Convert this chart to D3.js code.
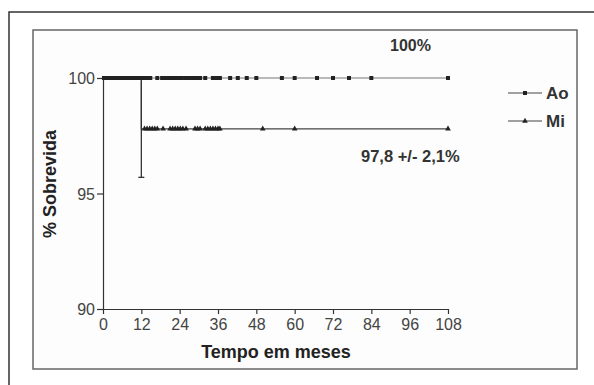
<!DOCTYPE html>
<html><head><meta charset="utf-8">
<script src="https://cdn.jsdelivr.net/npm/d3@7"></script>
<style>body{margin:0;background:#fff}svg{display:block}text{font-family:"Liberation Sans",Arial,sans-serif}</style>
</head><body>
<svg id="c" width="594" height="385"></svg>
<script>
// Data
const xTicks = [0,12,24,36,48,60,72,84,96,108];
const yTicks = [90,95,100];
const seriesNames = ["Ao","Mi"];
// Kaplan-Meier steps: [time, survival %]
const aoSteps = [[0,100],[108,100]];
const miSteps = [[0,100],[12,100],[12,97.8],[108,97.8]];
// censored observations (months)
const aoCensor = [0.3,0.8,1.2,1.7,2.2,2.6,3.1,3.6,4,4.5,5,5.5,6,6.4,6.9,7.4,7.8,8.3,8.8,9.2,9.7,10.2,10.6,11.1,11.6,12.3,12.8,13.3,13.8,14.3,14.8,17,18.5,19.2,20,20.8,21.5,22.3,23,23.8,24.6,25.7,26.5,27.3,28.1,29,29.8,30.4,32,34.4,35.2,36,36.6,39.8,42.2,45,48,56,60,67,72,77,84,108];
const miCensor = [13,13.8,14.6,15.4,16.2,17,18.8,21,21.8,22.6,23.4,24.2,25,26,28.8,29.6,30.4,32,32.8,33.6,34.4,35.2,36,36.6,50,60,108];
const miErr = {t:12, low:95.7, high:99.9};
const annoTop = "100%";
const annoMi = "97,8 +/- 2,1%";

const svg = d3.select("#c");
// frames
svg.append("path").attr("d","M9,385V12H594").attr("fill","none").attr("stroke","#333").attr("stroke-width",1.5);
svg.append("rect").attr("x",33).attr("y",30).attr("width",544).attr("height",339).attr("fill","#fdfdfd").attr("stroke","#666").attr("stroke-width",1.5);

const x = d3.scaleLinear().domain([0,108]).range([103,448]);
const y = d3.scaleLinear().domain([90,100]).range([309,78]);

const xAxis = svg.append("g").attr("transform","translate(0,309)")
  .call(d3.axisBottom(x).tickValues(xTicks).tickSize(5).tickSizeOuter(0).tickPadding(5));
const yAxis = svg.append("g").attr("transform","translate(103,0)")
  .call(d3.axisLeft(y).tickValues(yTicks).tickSize(6).tickSizeOuter(0).tickPadding(2));
[xAxis,yAxis].forEach(g=>{
  g.select(".domain").attr("stroke","#333").attr("stroke-width",1.2);
  g.selectAll(".tick line").attr("stroke","#333").attr("stroke-width",1.2);
  g.selectAll(".tick text").attr("fill","#444").style("font-size","16px");
});
yAxis.selectAll(".tick text").attr("dy","0.36em");

// titles
svg.append("text").attr("x",276).attr("y",358).attr("text-anchor","middle")
  .style("font-size","18px").style("font-weight","bold").attr("fill","#222").text("Tempo em meses");
svg.append("text").attr("transform","translate(56,184) rotate(-90)").attr("text-anchor","middle")
  .style("font-size","18px").style("font-weight","bold").attr("fill","#222").text("% Sobrevida");

const line = d3.line().x(d=>x(d[0])).y(d=>y(d[1]));
svg.append("path").attr("d",line(aoSteps)).attr("fill","none").attr("stroke","#777").attr("stroke-width",1.2);
svg.append("path").attr("d",line(miSteps)).attr("fill","none").attr("stroke","#444").attr("stroke-width",1.2);

// error bar
svg.append("line").attr("x1",x(miErr.t)).attr("x2",x(miErr.t)).attr("y1",y(miErr.high)).attr("y2",y(miErr.low)).attr("stroke","#333").attr("stroke-width",1.3);
svg.append("line").attr("x1",x(miErr.t)-3).attr("x2",x(miErr.t)+3).attr("y1",y(miErr.low)).attr("y2",y(miErr.low)).attr("stroke","#333").attr("stroke-width",1.3);

const sq = d3.symbol().type(d3.symbolSquare).size(16);
const tri = d3.symbol().type(d3.symbolTriangle).size(14);
svg.append("g").selectAll("path").data(aoCensor).join("path")
  .attr("d",sq).attr("transform",d=>`translate(${x(d)},${y(100)})`).attr("fill","#222");
svg.append("g").selectAll("path").data(miCensor).join("path")
  .attr("d",tri).attr("transform",d=>`translate(${x(d)},${y(97.8)})`).attr("fill","#222");

// legend
const lg = svg.append("g");
seriesNames.forEach((n,i)=>{
  const yy = 93 + i*28;
  lg.append("line").attr("x1",508).attr("x2",542).attr("y1",yy).attr("y2",yy).attr("stroke","#444").attr("stroke-width",1.2);
  lg.append("path").attr("d", i===0?sq:tri).attr("transform",`translate(525,${yy})`).attr("fill","#222");
  lg.append("text").attr("x",546).attr("y",yy).attr("dy","0.36em").style("font-size","17px").style("font-weight","bold").attr("fill","#333").text(n);
});

// annotations
svg.append("text").attr("x",390).attr("y",51).style("font-size","16px").style("font-weight","bold").attr("fill","#333").text(annoTop);
svg.append("text").attr("x",361).attr("y",162).style("font-size","16.5px").style("font-weight","bold").attr("fill","#333").text(annoMi);
</script>
</body></html>
